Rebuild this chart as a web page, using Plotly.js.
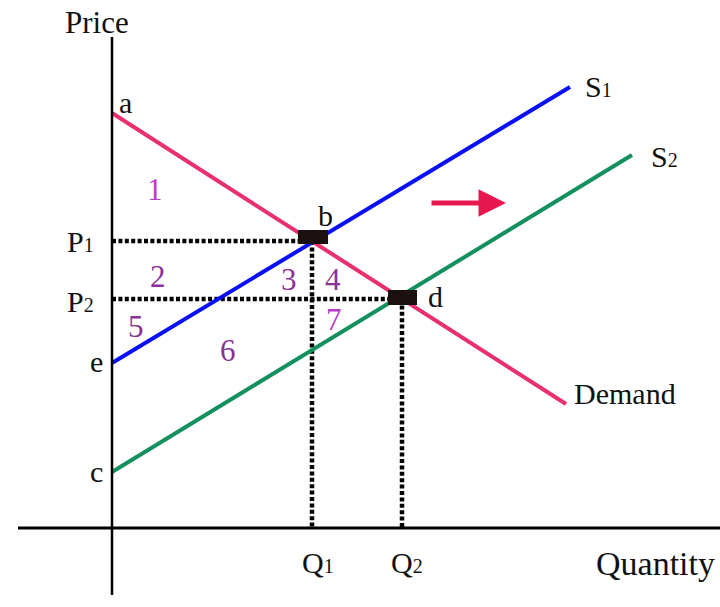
<!DOCTYPE html>
<html>
<head>
<meta charset="utf-8">
<script src="https://cdn.plot.ly/plotly-3.0.1.min.js"></script>
<style>html,body{margin:0;padding:0;background:#fff;}#chart{width:720px;height:607px;}</style>
</head>
<body>
<div id="chart"></div>
<script>
// Quantity / price values (origin at the axes crossing)
const demandQ = [0, 454];
const demandP = [415, 124];
const s1Q = [0, 458];
const s1P = [165, 441];
const s2Q = [0, 520];
const s2P = [56, 373];
const Q1 = 200, P1 = 287;
const Q2 = 290, P2 = 229;

// labels
const pointLabels = ['a', 'b', 'd', 'e', 'c'];
const pointLabelPos = [[13, 426], [213, 313], [323, 232], [-16, 167], [-16, 57]];
const areaLabels = ['1', '2', '3', '4', '5', '6', '7'];
const areaLabelPos = [[43, 339], [46, 252], [177, 249], [221, 249], [24, 202], [116, 178], [222, 209]];
const areaColors = ['#c03cd0', '#8a3296', '#8a3296', '#8a3296', '#8a3296', '#8a3296', '#b43cc8'];

const FONT = 'Liberation Serif, Times New Roman, serif';
const fs = 30;
const sub = s => '<span style="font-size:20px">' + s + '</span>';

const dot = {color: '#000', width: 4.5, dash: '4px,2.4px'};
const traces = [
  {x: [0, Q1], y: [P1, P1], mode: 'lines', line: dot},
  {x: [Q1, Q1], y: [P1, 0], mode: 'lines', line: dot},
  {x: [0, Q2], y: [P2, P2], mode: 'lines', line: dot},
  {x: [Q2, Q2], y: [P2, 0], mode: 'lines', line: dot},
  {x: demandQ, y: demandP, mode: 'lines', line: {color: '#e8306e', width: 4}},
  {x: s1Q, y: s1P, mode: 'lines', line: {color: '#0a10f5', width: 4}},
  {x: s2Q, y: s2P, mode: 'lines', line: {color: '#13905e', width: 4}}
];

const shapes = [
  {type: 'line', xref: 'x', yref: 'y', x0: -94, x1: 608, y0: 0, y1: 0, line: {color: '#000', width: 3}},
  {type: 'line', xref: 'x', yref: 'y', x0: 0, x1: 0, y0: -67, y1: 491, line: {color: '#000', width: 2.5}},
  {type: 'rect', xref: 'x', yref: 'y', x0: Q1 - 14, x1: Q1 + 16, y0: P1 - 3, y1: P1 + 11, fillcolor: '#1a1010', line: {width: 0}},
  {type: 'rect', xref: 'x', yref: 'y', x0: Q2 - 14, x1: Q2 + 15, y0: P2 - 6, y1: P2 + 9, fillcolor: '#1a1010', line: {width: 0}}
];

const ann = [];
function txt(t, x, y, color, size) {
  ann.push({text: t, x: x, y: y, xref: 'x', yref: 'y', showarrow: false, xanchor: 'center', yanchor: 'middle',
    font: {family: FONT, size: size || fs, color: color || '#111'}});
}
txt('Price', -15, 506, null, 31);
txt('Quantity', 543, -35, null, 34);
txt('Demand', 513, 135);
txt('S' + sub('1'), 486, 442);
txt('S' + sub('2'), 552, 372);
txt('P' + sub('1'), -32, P1);
txt('P' + sub('2'), -32, P2 - 2);
txt('Q' + sub('1'), Q1 + 6, -34);
txt('Q' + sub('2'), Q2 + 5, -34);
pointLabels.forEach((t, i) => txt(t, pointLabelPos[i][0], pointLabelPos[i][1]));
areaLabels.forEach((t, i) => txt(t, areaLabelPos[i][0], areaLabelPos[i][1], areaColors[i], 31));
// shift arrow
ann.push({x: 394, y: 325, ax: 318, ay: 325, xref: 'x', yref: 'y', axref: 'x', ayref: 'y', text: '',
  showarrow: true, arrowhead: 2, arrowsize: 1.1, arrowwidth: 5, arrowcolor: '#e8174f'});

const layout = {
  width: 720, height: 607,
  margin: {l: 0, r: 0, t: 0, b: 0, pad: 0},
  paper_bgcolor: '#fff', plot_bgcolor: '#fff',
  showlegend: false,
  xaxis: {range: [-112, 608], visible: false, fixedrange: true},
  yaxis: {range: [-79, 528], visible: false, fixedrange: true},
  shapes: shapes,
  annotations: ann
};
Plotly.newPlot('chart', traces, layout, {staticPlot: true, displayModeBar: false});
</script>
</body>
</html>
